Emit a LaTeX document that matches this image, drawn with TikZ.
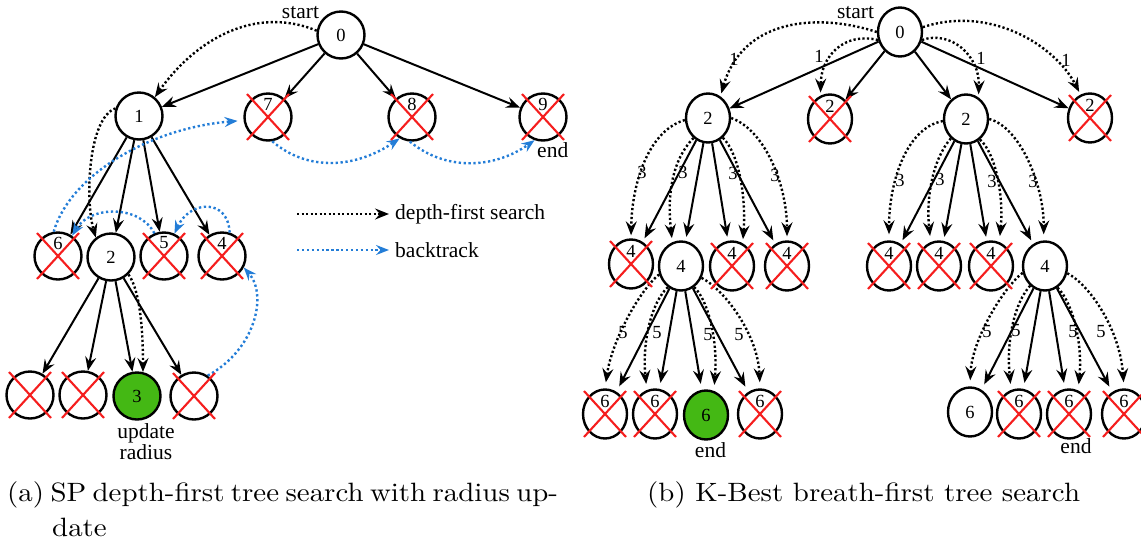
\documentclass[tikz,border=0pt]{standalone}
\usepackage{fontspec}
\usetikzlibrary{arrows.meta,shapes.geometric}
\newfontfamily\tnr{Liberation Serif}
\newfontfamily\capfont{lmroman10-regular.otf}
\definecolor{crossred}{RGB}{245,30,30}
\definecolor{btblue}{RGB}{35,125,215}
\definecolor{leafgreen}{RGB}{68,184,20}
\tikzset{
  num/.style={font=\tnr\fontsize{18.5}{20}\selectfont, inner sep=0pt},
  txt/.style={font=\tnr\fontsize{21.5}{21}\selectfont, inner sep=0pt},
  capt/.style={font=\capfont\fontsize{26.5}{32}\selectfont, inner sep=0pt, xscale=1.09},
  cnode/.style={circle, draw, line width=2.4pt, minimum size=47pt, inner sep=0pt, num},
  enode/.style={ellipse, draw, line width=2.4pt, minimum width=44pt, minimum height=49pt, inner sep=0pt, num},
  xlab/.style={label={[num,yshift=13pt]center:#1}},
  hit/.style={fill=leafgreen},
  tipb/.style={-{Stealth[length=14pt,width=11pt,inset=5pt]}},
  sedge/.style={line width=2pt, tipb},
  dfs/.style={line width=2.4pt, dash pattern=on 2.2pt off 2.3pt, tipb},
  bt/.style={draw=btblue, line width=2.4pt, dash pattern=on 2.3pt off 2.6pt,
             -{Stealth[length=13pt,width=10pt,inset=4.5pt,fill=btblue]}},
  xline/.style={draw=crossred, line width=2.1pt},
}
\begin{document}
\begin{tikzpicture}[x=1pt,y=1pt]
\useasboundingbox (0,0) rectangle (1141,-547);

% ---------------- (a) depth-first search tree ----------------
\node[cnode] (L0) at (341,-35) {0};
\node[cnode] (L1) at (139,-116) {1};
\node[cnode,xlab=7] (L7) at (268,-117) {};
\node[cnode,xlab=8] (L8) at (412,-117) {};
\node[cnode,xlab=9] (L9) at (543,-117) {};
\node[cnode,xlab=6] (L6) at (58,-256) {};
\node[cnode] (L2) at (111,-257) {2};
\node[cnode,xlab=5] (L5) at (164,-256) {};
\node[cnode,xlab=4] (L4) at (222,-256) {};
\node[cnode] (La) at (30,-395) {};
\node[cnode] (Lb) at (83,-395) {};
\node[cnode,hit] (L3) at (137,-396) {3};
\node[cnode] (Ld) at (194,-396) {};

\node[txt, anchor=base] (Lstart) at (300.5,-18) {start};
\node[txt, anchor=west] (Lend) at (537,-150) {end};
\node[txt, anchor=north, align=center] (upd) at (146,-423) {update\\radius};

\foreach \a/\b in {L0/L1,L0/L7,L0/L8,L0/L9,L1/L6,L1/L2,L1/L5,L1/L4,L2/La,L2/Lb,L2/L3,L2/Ld}
  \draw[sedge] (\a) -- (\b);

\draw[dfs] (L0.170) .. controls (255,-5) and (195,-40) .. (L1.50);
\draw[dfs] (L1.162) .. controls (88,-118) and (85,-200) .. (L2.128);
\draw[dfs] (L2.-45) .. controls (140,-290) and (143,-330) .. (L3.76);

\draw[bt, shorten >=6pt] (L6.100) .. controls (70,-175) and (150,-128) .. (L7.188);
\draw[bt] (L7.-80) .. controls (308,-172) and (356,-168) .. (L8.240);
\draw[bt] (L8.-95) .. controls (447,-172) and (495,-168) .. (L9.250);
\draw[bt] (L5.113) .. controls (140,-205) and (90,-205) .. (L6.55);
\draw[bt] (L4.72) .. controls (228,-198) and (190,-200) .. (L5.65);
\draw[bt] (Ld.56) .. controls (255,-350) and (268,-295) .. (L4.-28);

% legend
\coordinate (lgA) at (297,-214);
\coordinate (lgB) at (297,-250);
\node[txt, anchor=west, inner xsep=6pt] (lgtA) at (389,-214) {depth-first search};
\node[txt, anchor=west, inner xsep=6pt] (lgtB) at (389,-250) {backtrack};
\draw[dfs] (lgA) -- (lgtA.west);
\draw[bt] (lgB) -- (lgtB.west);

% ---------------- (b) K-best breadth-first tree ----------------
\node[enode] (R0) at (900,-32) {0};
\node[enode] (R2a) at (708,-118) {2};
\node[enode,xlab=2] (R2x) at (830,-119) {};
\node[enode] (R2b) at (966,-119) {2};
\node[enode,xlab=2] (R2y) at (1090,-118) {};

\node[enode,xlab=4] (R4a) at (631,-264) {};
\node[enode] (R4) at (681,-266) {4};
\node[enode,xlab=4] (R4b) at (732,-266) {};
\node[enode,xlab=4] (R4c) at (787,-266) {};
\node[enode,xlab=4] (R4d) at (889,-266) {};
\node[enode,xlab=4] (R4e) at (939,-266) {};
\node[enode,xlab=4] (R4f) at (991,-266) {};
\node[enode] (R4g) at (1045,-266) {4};

\node[enode,xlab=6] (R6a) at (605,-414) {};
\node[enode,xlab=6] (R6b) at (655,-414) {};
\node[enode,hit] (R6g) at (706,-415) {6};
\node[enode,xlab=6] (R6c) at (760,-414) {};
\node[enode] (R6d) at (970,-412) {6};
\node[enode,xlab=6] (R6e) at (1019,-414) {};
\node[enode,xlab=6] (R6f) at (1069,-414) {};
\node[enode,xlab=6] (R6h) at (1124,-414) {};

\node[txt, anchor=base] (Rstart) at (855.5,-18) {start};
\node[txt] (Rend1) at (710.5,-450) {end};
\node[txt] (Rend2) at (1076,-446) {end};

\foreach \b in {R2a,R2x,R2b,R2y}
  \draw[sedge] (R0) -- (\b);
\foreach \a/\b in {R2a/R4a,R2a/R4,R2a/R4b,R2a/R4c,R2b/R4d,R2b/R4e,R2b/R4f,R2b/R4g}
  \draw[sedge, shorten >=4pt] (\a) -- (\b);
\foreach \a/\b in {R4/R6a,R4/R6b,R4/R6g,R4/R6c,R4g/R6d,R4g/R6e,R4g/R6f,R4g/R6h}
  \draw[sedge, shorten >=6pt] (\a) -- (\b);

\draw[dfs, shorten >=3pt] (R0.west) .. controls (815,-12) and (742,-20) .. (R2a.60);
\draw[dfs, shorten >=3pt] (R0.200) .. controls (845,-32) and (821,-55) .. (R2x.112);
\draw[dfs, shorten >=3pt] (R0.-20) .. controls (950,-30) and (980,-55) .. (R2b.60);
\draw[dfs, shorten >=3pt] (R0.12) .. controls (990,-5) and (1055,-45) .. (R2y.112);
\node[num] (k1a) at (734,-59) {1};
\node[num] (k1b) at (819,-56) {1};
\node[num] (k1c) at (981,-58) {1};
\node[num] (k1d) at (1066,-60) {1};

\draw[dfs, shorten >=3pt] (R2a.185) .. controls (650,-130) and (632,-180) .. (R4a.north);
\draw[dfs, shorten >=4pt] (R2a.234) .. controls (672,-160) and (667,-195) .. (R4.110);
\draw[dfs, shorten >=4pt] (R2a.-53) .. controls (740,-155) and (746,-200) .. (R4b.65);
\draw[dfs, shorten >=4pt] (R2a.0) .. controls (765,-130) and (787,-185) .. (R4c.north);
\draw[dfs, shorten >=6pt] (R2b.185) .. controls (905,-128) and (889,-185) .. (R4d.north);
\draw[dfs, shorten >=6pt] (R2b.232) .. controls (932,-160) and (926,-200) .. (R4e.109);
\draw[dfs, shorten >=6pt] (R2b.-56) .. controls (995,-152) and (1004,-195) .. (R4f.71);
\draw[dfs, shorten >=6pt] (R2b.0) .. controls (1020,-127) and (1044,-185) .. (R4g.93);
\node[num] (k3a) at (642,-172) {3};
\node[num] (k3b) at (683,-172) {3};
\node[num] (k3c) at (733,-173) {3};
\node[num] (k3d) at (775,-175) {3};
\node[num] (k3e) at (900,-180) {3};
\node[num] (k3f) at (940,-179) {3};
\node[num] (k3g) at (992,-181) {3};
\node[num] (k3h) at (1033,-181) {3};

\draw[dfs, shorten >=6pt] (R4.201) .. controls (640,-290) and (612,-340) .. (R6a.north);
\draw[dfs, shorten >=6pt] (R4.238) .. controls (652,-302) and (642,-340) .. (R6b.109);
\draw[dfs, shorten >=6pt] (R4.-58) .. controls (708,-300) and (718,-340) .. (R6g.72);
\draw[dfs, shorten >=6pt] (R4.-30) .. controls (725,-290) and (758,-335) .. (R6c.north);
\draw[dfs, shorten >=6pt] (R4g.197) .. controls (1003,-288) and (972,-340) .. (R6d.north);
\draw[dfs, shorten >=6pt] (R4g.233) .. controls (1015,-302) and (1006,-340) .. (R6e.108);
\draw[dfs, shorten >=6pt] (R4g.-60) .. controls (1071,-300) and (1083,-340) .. (R6f.69);
\draw[dfs, shorten >=6pt] (R4g.-18) .. controls (1090,-285) and (1120,-330) .. (R6h.north);
\node[num] (k5a) at (623,-333) {5};
\node[num] (k5b) at (657,-333) {5};
\node[num] (k5c) at (708,-335) {5};
\node[num] (k5d) at (739,-335) {5};
\node[num] (k5e) at (987,-332) {5};
\node[num] (k5f) at (1016,-331) {5};
\node[num] (k5g) at (1073,-332) {5};
\node[num] (k5h) at (1101,-332) {5};

% red crosses over pruned nodes
\foreach \n in {L7,L8,L9,L6,L5,L4,La,Lb,Ld,R2x,R2y,R4a,R4b,R4c,R4d,R4e,R4f,R6a,R6b,R6c,R6e,R6f,R6h}{
  \draw[xline] ([shift={(-21,23)}]\n.center) -- ([shift={(21,-23)}]\n.center);
  \draw[xline] ([shift={(21,23)}]\n.center) -- ([shift={(-21,-23)}]\n.center);
}

% captions
\node[capt, anchor=base west] (capA) at (7,-501) {\makebox[503pt][s]{(a) SP depth-first tree search with radius up-}};
\node[capt, anchor=base west] (capA2) at (52,-536) {date};
\node[capt, anchor=base west] (capB) at (647,-501) {(b) K-Best breath-first tree search};
\end{tikzpicture}
\end{document}
